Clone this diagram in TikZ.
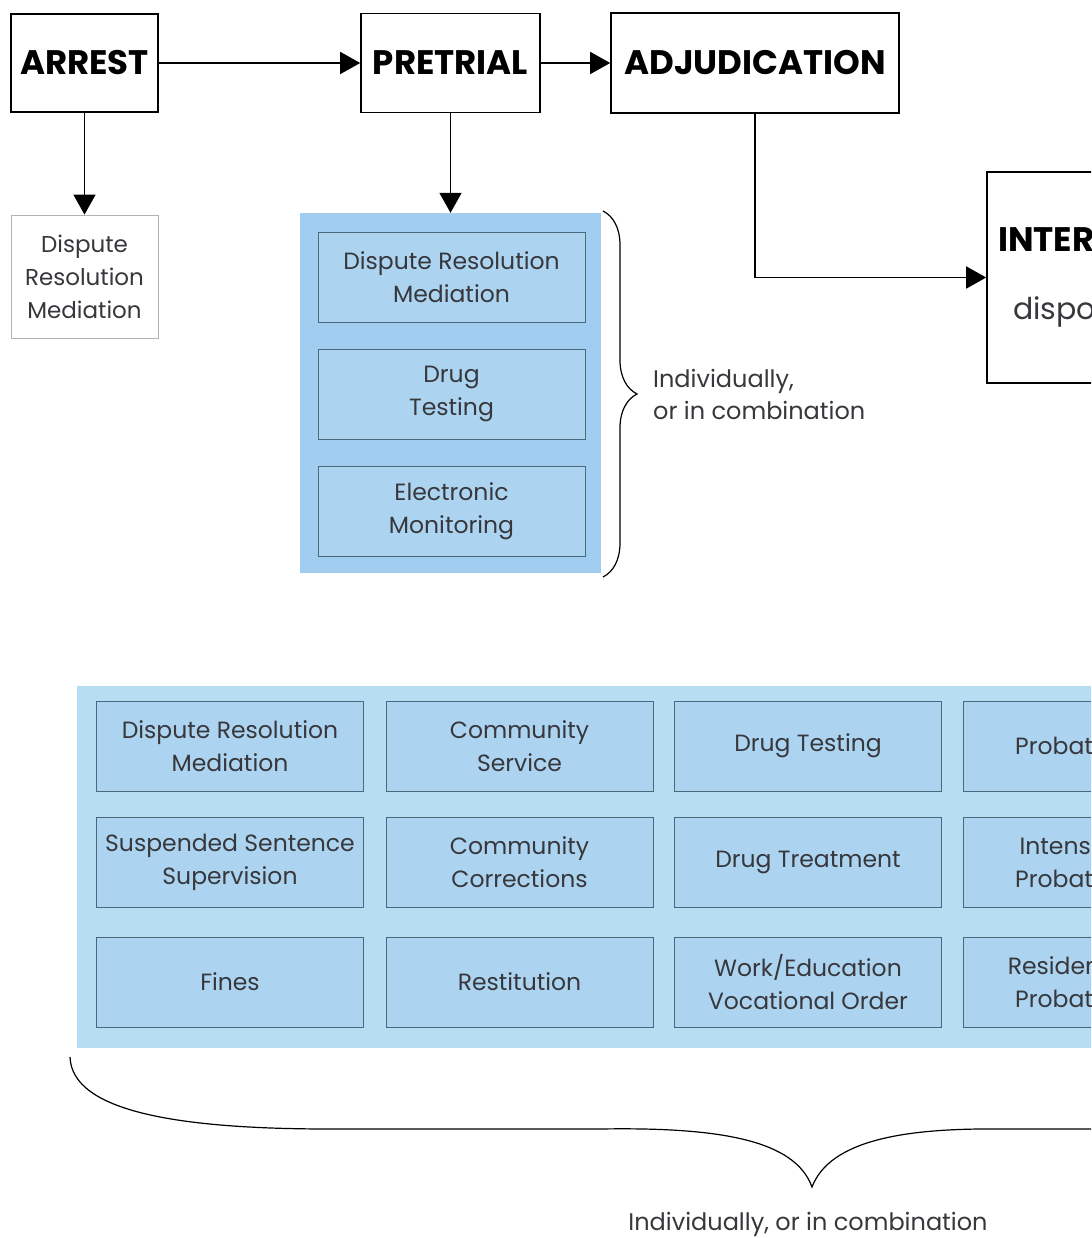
\documentclass[tikz,border=0pt]{standalone}
\usepackage{fontspec}
\setmainfont{Poppins}
\usetikzlibrary{arrows.meta,decorations.pathreplacing}
\definecolor{panelblue}{RGB}{160,205,240}
\definecolor{panellight}{RGB}{182,221,242}
\definecolor{cellblue}{RGB}{172,212,240}
\definecolor{cellline}{RGB}{75,105,125}
\definecolor{darktext}{RGB}{55,55,60}
\begin{document}
\begin{tikzpicture}[x=1pt,y=-1pt,
  stage/.style={draw,line width=1.6pt,font=\fontsize{34}{40}\selectfont\bfseries,inner sep=0pt},
  option/.style={draw=black!30,line width=0.8pt,text=darktext,align=center,font=\fontsize{23}{33}\selectfont,inner sep=0pt},
  cell/.style={draw=cellline,fill=cellblue,line width=0.9pt,minimum height=90pt,align=center,text=darktext,font=\fontsize{23.5}{33}\selectfont,inner sep=0pt},
  panel/.style={fill=#1,inner sep=0pt},
  flow/.style={line width=1.6pt,-{Triangle[length=20pt,width=22pt]}},
  note/.style={align=left,text=darktext,font=\fontsize{24}{32}\selectfont,inner sep=0pt}]
\useasboundingbox (0,0) rectangle (1091,1238);
\clip (0,0) rectangle (1091,1238);
% stages
\node[stage,minimum width=147pt,minimum height=98pt] (arrest) at (84.5,63) {ARREST};
\node[stage,minimum width=179pt,minimum height=99pt] (pretrial) at (450.5,63) {PRETRIAL};
\node[stage,minimum width=288pt,minimum height=100pt] (adjud) at (755,63) {ADJUDICATION};
\node[stage,minimum width=300pt,minimum height=211pt] (inter) at (1137,277.5) {};
\node[anchor=west,inner sep=0pt,font=\fontsize{34}{40}\selectfont\bfseries] (intertitle) at (998,240) {INTERMEDIATE};
\node[anchor=west,inner sep=0pt,text=darktext,font=\fontsize{30}{36}\selectfont] (interdisp) at (1013,312) {disposition};
% options after arrest and pretrial
\node[option,minimum width=147pt,minimum height=123pt] (arrestopt) at (84.5,276.5) {Dispute\\Resolution\\Mediation};
\node[panel=panelblue,minimum width=301pt,minimum height=360pt] (prepanel) at (450.5,393) {};
\node[cell,minimum width=267pt] (pre1) at (451.5,277) {Dispute Resolution\\Mediation};
\node[cell,minimum width=267pt] (pre2) at (451.5,394) {Drug\\Testing};
\node[cell,minimum width=267pt] (pre3) at (451.5,511) {Electronic\\Monitoring};
\draw[line width=1.2pt,decorate,decoration={brace,amplitude=34pt}] (603,211) -- (603,577);
\node[note,anchor=west] (prenote) at (653,394) {Individually,\\or in combination};
% sentencing options
\node[panel=panellight,minimum width=1470pt,minimum height=362pt] (sentpanel) at (812,867) {};
\foreach \n/\cx/\cy/\w/\txt in {
  1/230/746/267/{Dispute Resolution\\Mediation},
  2/519.5/746/267/{Community\\Service},
  3/808/746/267/{Drug Testing},
  4/1072/746/218/{Probation},
  5/230/862.5/267/{Suspended Sentence\\Supervision},
  6/519.5/862.5/267/{Community\\Corrections},
  7/808/862.5/267/{Drug Treatment},
  8/1072/862.5/218/{Intensive\\Probation},
  9/230/982/267/{Fines},
  10/519.5/982/267/{Restitution},
  11/808/982/267/{Work/Education\\Vocational Order},
  12/1072/982/218/{Residential\\Probation}}
  \node[cell,minimum width=\w pt] (s\n) at (\cx,\cy) {\txt};
\draw[line width=1.2pt] (70,1057) .. controls (72,1112) and (180,1129) .. (330,1129) -- (600,1129)
  .. controls (720,1127) and (795,1140) .. (812,1187)
  .. controls (830,1140) and (905,1128) .. (1000,1129) -- (1091,1129);
\node[note,align=center] (sentnote) at (808,1224) {Individually, or in combination};
% connectors
\foreach \a/\b in {arrest/pretrial,pretrial/adjud,arrest/arrestopt,pretrial/prepanel}
  \draw[flow] (\a)--(\b);
\draw[flow] (adjud) |- (inter);
\end{tikzpicture}
\end{document}
